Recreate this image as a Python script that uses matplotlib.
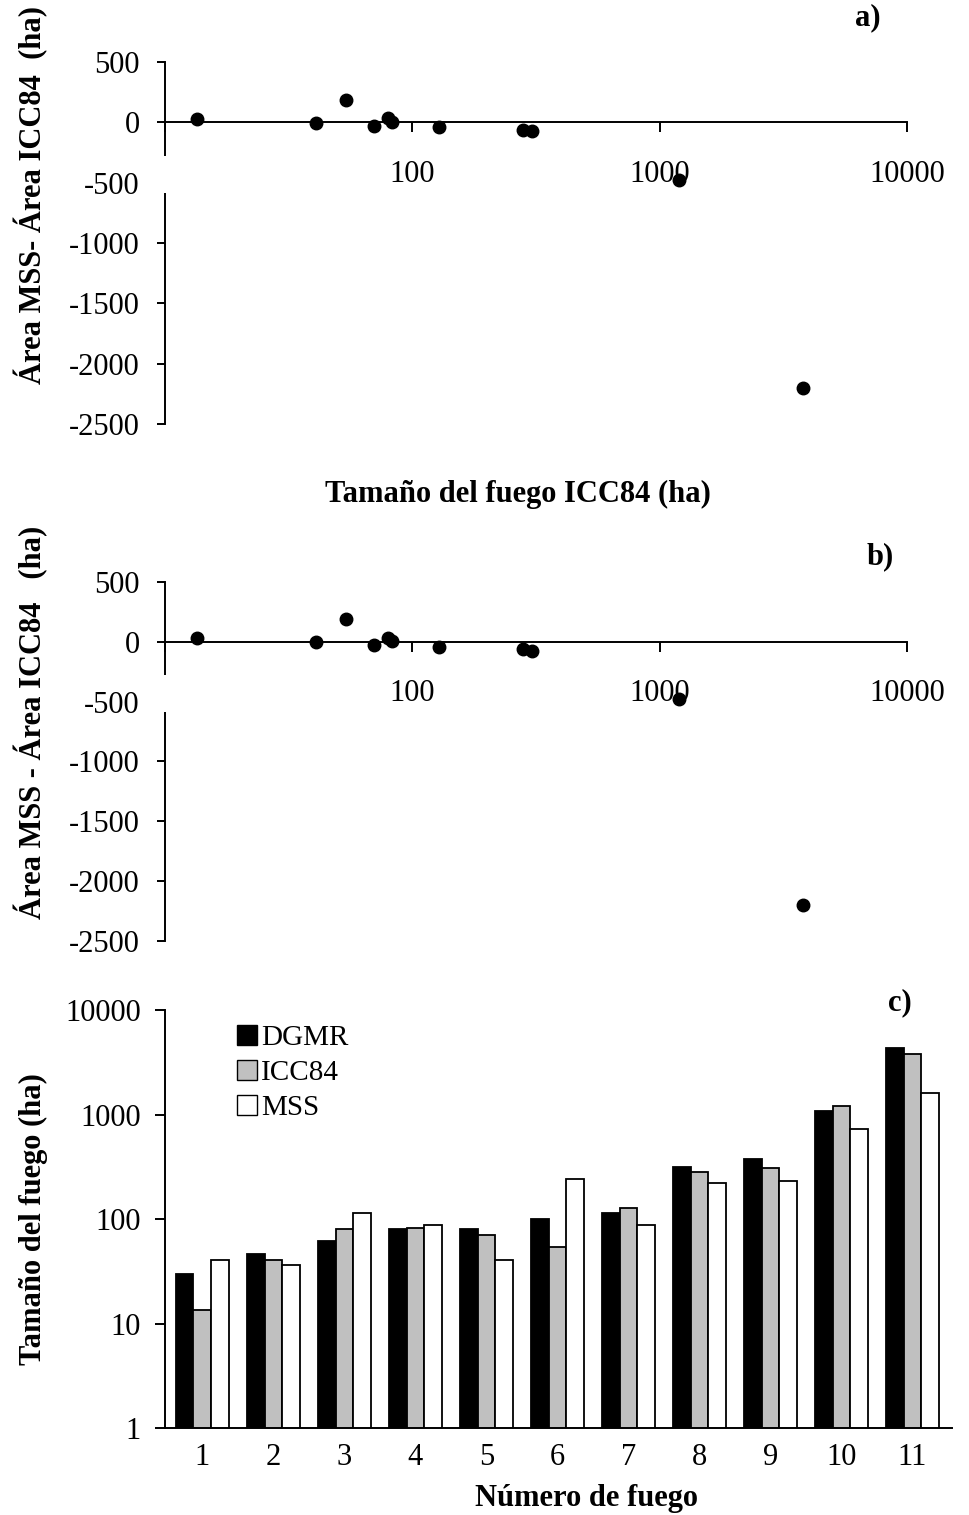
import matplotlib.pyplot as plt
import numpy as np
from matplotlib.patches import Patch, Rectangle
from matplotlib.ticker import NullLocator
from matplotlib.transforms import blended_transform_factory

plt.rcParams['font.family'] = ['Liberation Serif', 'DejaVu Serif']
plt.rcParams['font.size'] = 22
plt.rcParams['axes.linewidth'] = 1.4

# Data: fire sizes (ha) per source
fires = [1, 2, 3, 4, 5, 6, 7, 8, 9, 10, 11]
dgmr = [30, 46, 62, 81, 81, 100, 115, 313, 373, 1075, 4300]
icc84 = [13.5, 41, 80, 83, 70, 54, 128, 280, 305, 1200, 3800]
mss = [41, 36, 115, 87, 41, 240, 87, 220, 230, 720, 1600]

# difference MSS - ICC84 vs ICC84 size
diff = np.array(mss) - np.array(icc84)

xticks_ab = [10, 100, 1000, 10000]
xticklabels_ab = ['', '100', '1000', '10000']
yticks_ab = [500, 0, -500, -1000, -1500, -2000, -2500]
yticks_c = [1, 10, 100, 1000, 10000]

fig = plt.figure(figsize=(9.69, 15.15), dpi=100)


def scatter_panel(ax, ylabel, label_y):
    ax.plot(icc84, diff, 'o', color='black', ms=9, clip_on=False, zorder=4)
    ax.set_xscale('log')
    ax.set_xlim(10, 10000)
    ax.set_ylim(-2500, 500)
    ax.set_xticks(xticks_ab)
    ax.set_xticklabels(xticklabels_ab)
    ax.xaxis.set_minor_locator(NullLocator())
    ax.set_yticks(yticks_ab)
    ax.set_yticklabels([str(v) for v in yticks_ab])
    ax.spines['top'].set_visible(False)
    ax.spines['right'].set_visible(False)
    ax.spines['bottom'].set_position(('data', 0))
    ax.tick_params(axis='x', direction='out', length=7, width=1.4, pad=20)
    ax.tick_params(axis='y', direction='out', length=6, width=1.4, pad=12)
    ax.set_ylabel(ylabel, fontweight='bold')
    ax.yaxis.set_label_coords(-0.157, label_y)
    # gap in the y axis where the x tick labels sit
    tr = blended_transform_factory(ax.transAxes, ax.transData)
    ax.add_patch(Rectangle((-0.013, -583), 0.02, 308, transform=tr,
                           facecolor='white', edgecolor='none', zorder=6, clip_on=False))


axa = fig.add_axes([0.170, 0.7201, 0.766, 0.2390])
scatter_panel(axa, 'Área MSS- Área ICC84  (ha)', 0.633)
fig.text(518 / 969, 1 - 494 / 1515, 'Tamaño del fuego ICC84 (ha)',
         ha='center', va='center', fontweight='bold')
fig.text(868 / 969, 1 - 18 / 1515, 'a)', ha='center', va='center', fontweight='bold')

axb = fig.add_axes([0.170, 0.3789, 0.766, 0.2370])
scatter_panel(axb, 'Área MSS - Área ICC84   (ha)', 0.61)
fig.text(880 / 969, 1 - 557 / 1515, 'b)', ha='center', va='center', fontweight='bold')

# Panel c: bars
axc = fig.add_axes([0.170, 0.0574, 0.812, 0.2759])
x = np.array(fires)
w = 0.25
axc.bar(x - w, dgmr, w, color='black', edgecolor='black', lw=1.3, label='DGMR')
axc.bar(x, icc84, w, color='#c0c0c0', edgecolor='black', lw=1.3, label='ICC84')
axc.bar(x + w, mss, w, color='white', edgecolor='black', lw=1.3, label='MSS')
axc.set_yscale('log')
axc.set_ylim(1, 10000)
axc.set_xlim(0.47, 11.55)
axc.set_yticks(yticks_c)
axc.set_yticklabels([str(v) for v in yticks_c])
axc.yaxis.set_minor_locator(NullLocator())
axc.set_xticks(fires)
axc.set_xticklabels([str(f) for f in fires])
axc.tick_params(axis='x', length=0, pad=11)
axc.tick_params(axis='y', direction='out', length=7, width=1.4, pad=10)
axc.spines['top'].set_visible(False)
axc.spines['right'].set_visible(False)
axc.set_ylabel('Tamaño del fuego (ha)', fontweight='bold')
axc.yaxis.set_label_coords(-0.148, 0.5)
axc.set_xlabel('Número de fuego', fontweight='bold')
axc.xaxis.set_label_coords(0.536, -0.135)
fig.text(900 / 969, 1 - 1003 / 1515, 'c)', ha='center', va='center', fontweight='bold')

handles = [Patch(facecolor='black', edgecolor='black'),
           Patch(facecolor='#c0c0c0', edgecolor='black'),
           Patch(facecolor='white', edgecolor='black')]
axc.legend(handles, ['DGMR', 'ICC84', 'MSS'], loc='upper left',
           bbox_to_anchor=(222 / 969, 1 - 1010 / 1515), bbox_transform=fig.transFigure,
           frameon=False, fontsize=21, borderpad=0, handlelength=0.7, handleheight=0.7,
           handletextpad=0.15, labelspacing=0.3)

fig.savefig('out.png', dpi=100)
